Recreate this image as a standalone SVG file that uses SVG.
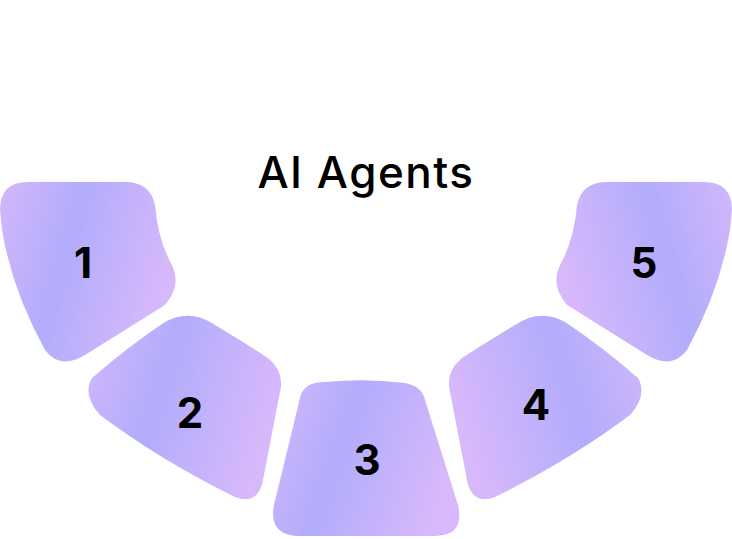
<svg xmlns="http://www.w3.org/2000/svg" width="732" height="539" viewBox="0 0 732 539">
<defs>
<linearGradient id="g" x1="0" y1="0" x2="1" y2="0.3">
<stop offset="0" stop-color="#d3b7fb"/>
<stop offset="0.45" stop-color="#b2acfc"/>
<stop offset="1" stop-color="#d6b8fb"/>
</linearGradient>
<style>
.s{fill:url(#g)}
.n{font-family:Inter,"Liberation Sans",sans-serif;font-weight:700;font-size:42px;fill:#000;text-anchor:middle}
.t{font-family:Inter,"Liberation Sans",sans-serif;font-weight:500;font-size:44px;letter-spacing:1.5px;fill:#000;text-anchor:middle}
</style>
</defs>
<rect width="732" height="539" fill="#fff"/>
<text class="t" x="366" y="188">AI Agents</text>
<g id="seg1"><path class="s" d="M 0,210 Q 0,182 28,182 L 125,182 Q 150,182 155,205 Q 158,240 172,265 Q 182,285 165,305 L 85,355 Q 60,370 45,350 Q 12,290 2,230 Z"/><text class="n" x="83" y="278">1</text></g>
<g id="seg2"><path class="s" d="M 92,378 Q 130,345 165,322 Q 190,308 215,325 Q 245,343 268,358 Q 285,372 280,392 L 262,485 Q 255,505 235,497 Q 160,460 100,415 Q 82,395 92,378 Z"/><text class="n" x="190" y="428">2</text></g>
<g id="seg3"><path class="s" d="M 300,398 Q 303,382 325,382 Q 365,378 405,383 Q 422,386 425,400 L 458,505 Q 465,536 435,536 L 300,536 Q 268,536 274,505 Z"/><text class="n" x="367" y="475">3</text></g>
<g id="seg4" transform="translate(730,0) scale(-1,1)"><path class="s" d="M 92,378 Q 130,345 165,322 Q 190,308 215,325 Q 245,343 268,358 Q 285,372 280,392 L 262,485 Q 255,505 235,497 Q 160,460 100,415 Q 82,395 92,378 Z"/></g>
<text class="n" x="536" y="420">4</text>
<g id="seg5" transform="translate(732,0) scale(-1,1)"><path class="s" d="M 0,210 Q 0,182 28,182 L 125,182 Q 150,182 155,205 Q 158,240 172,265 Q 182,285 165,305 L 85,355 Q 60,370 45,350 Q 12,290 2,230 Z"/></g>
<text class="n" x="644" y="278">5</text>
<g id="connectors"/>
</svg>
